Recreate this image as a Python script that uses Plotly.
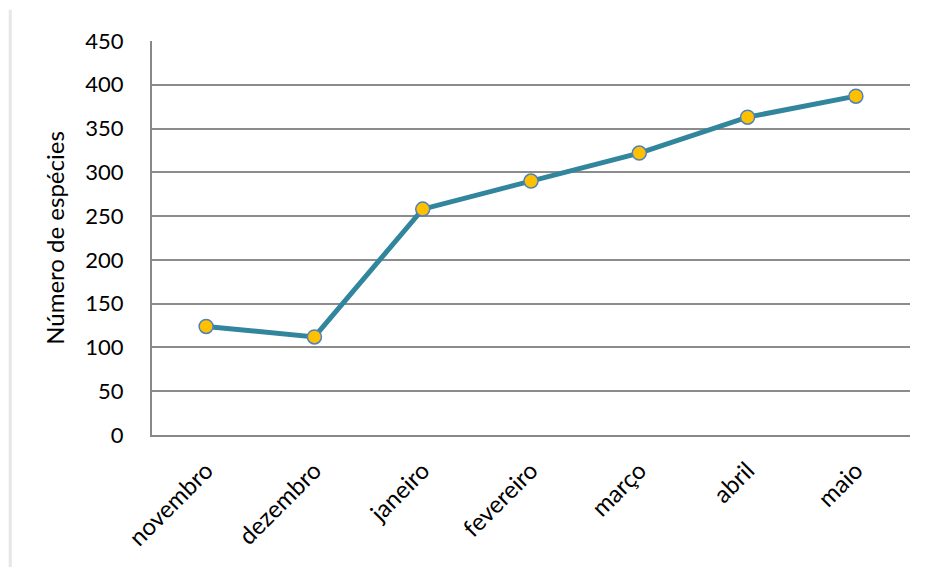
import plotly.graph_objects as go

months = ["novembro", "dezembro", "janeiro", "fevereiro", "março", "abril", "maio"]
species = [124, 112, 258, 290, 322, 363, 387]
y_ticks = [0, 50, 100, 150, 200, 250, 300, 350, 400, 450]

fig = go.Figure()
fig.add_trace(go.Scatter(
    x=months, y=species, mode="lines+markers",
    line=dict(color="#31859C", width=5),
    marker=dict(size=14, color="#FFC000", line=dict(color="#4F81BD", width=1.5)),
    showlegend=False,
))

fam = "Lato, 'Open Sans', sans-serif"
yfont = dict(family=fam, size=22, color="#000000")
xfont = dict(family=fam, size=24, color="#000000")
tfont = dict(family=fam, size=24, color="#000000")

fig.update_layout(
    width=928, height=567,
    margin=dict(l=152, r=18, t=41, b=132),
    paper_bgcolor="white", plot_bgcolor="white",
    font=yfont,
    xaxis=dict(
        type="category", range=[-0.5, 6.5], tickangle=-45,
        showgrid=False, showline=True, linecolor="#888888", linewidth=2,
        ticks="outside", ticklen=10, tickcolor="rgba(0,0,0,0)", tickfont=xfont,
    ),
    yaxis=dict(
        range=[0, 450], tickvals=y_ticks, showgrid=True, gridcolor="#8c8c8c",
        gridwidth=1.5, showline=True, linecolor="#888888", linewidth=2,
        ticks="outside", ticklen=22, tickcolor="rgba(0,0,0,0)", tickfont=yfont,
        title=dict(text="Número de espécies", font=tfont, standoff=14),
        zeroline=False,
    ),
    shapes=[dict(
        type="line", xref="paper", yref="paper",
        x0=-0.187, x1=-0.187, y0=1.079, y1=-0.34,
        line=dict(color="#e6e6e6", width=3),
    )],
)
fig.write_html("out.html")
